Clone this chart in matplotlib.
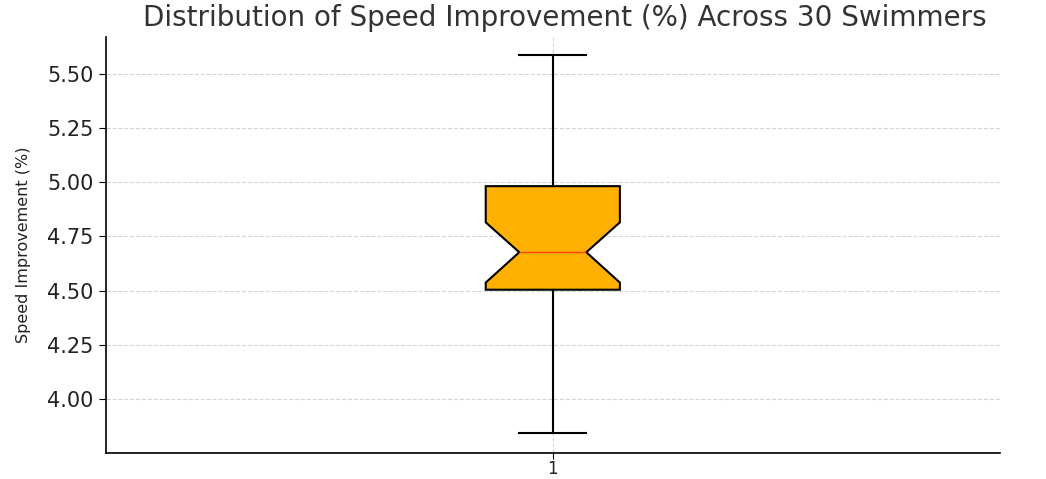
import matplotlib
matplotlib.use('Agg')
import matplotlib.pyplot as plt

# Box summary
labels = ['1']
q1 = [4.504]
q3 = [4.982]
medians = [4.677]
whisker_low = [3.842]
whisker_high = [5.587]
notch_low = [4.537]
notch_high = [4.815]

stats = []
for i in range(len(labels)):
    stats.append({
        'label': labels[i],
        'med': medians[i],
        'q1': q1[i],
        'q3': q3[i],
        'whislo': whisker_low[i],
        'whishi': whisker_high[i],
        'cilo': notch_low[i],
        'cihi': notch_high[i],
        'fliers': [],
    })

fig = plt.figure(figsize=(10.46, 4.79), dpi=100)
ax = fig.add_axes([0.101, 0.055, 0.855, 0.868])

ax.bxp(stats, shownotches=True, patch_artist=True, widths=0.15,
       boxprops=dict(facecolor='#FFB000', edgecolor='black', linewidth=1.5),
       medianprops=dict(color='#FF4500', linewidth=1),
       whiskerprops=dict(color='black', linewidth=1.5),
       capprops=dict(color='black', linewidth=1.5))

ax.set_ylim(3.752, 5.671)
ax.set_yticks([4.00, 4.25, 4.50, 4.75, 5.00, 5.25, 5.50])
ax.set_yticklabels(['4.00', '4.25', '4.50', '4.75', '5.00', '5.25', '5.50'])
ax.tick_params(axis='y', labelsize=15, labelcolor='#222222', length=5)
ax.tick_params(axis='x', labelsize=12, labelcolor='#222222', length=4, pad=1)

ax.grid(True, linestyle='--', color='#cccccc', linewidth=0.8, alpha=0.8)
ax.set_axisbelow(True)
ax.spines['top'].set_visible(False)
ax.spines['right'].set_visible(False)
ax.spines['left'].set_linewidth(1.2)
ax.spines['bottom'].set_linewidth(1.2)

ax.set_ylabel('Speed Improvement (%)', fontsize=11.5, color='#222222')
ax.yaxis.set_label_coords(-0.084, 0.5)
fig.text(0.54, 0.962, 'Distribution of Speed Improvement (%) Across 30 Swimmers',
         ha='center', va='center', fontsize=20, color='#333333')

fig.savefig('out.png', dpi=100)
